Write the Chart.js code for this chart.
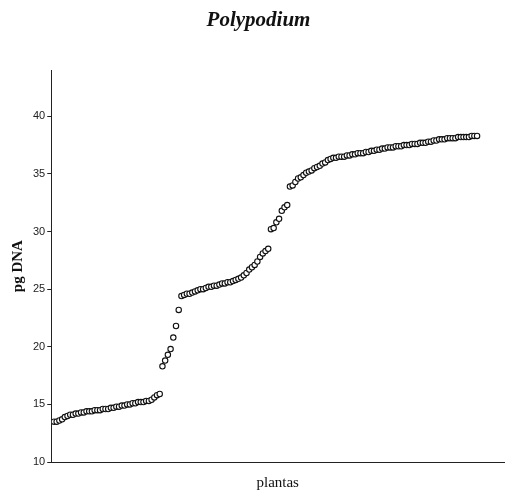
<!DOCTYPE html>
<html>
<head>
<meta charset="utf-8">
<script src="https://cdn.jsdelivr.net/npm/chart.js@4.4.0/dist/chart.umd.min.js"></script>
<style>
  html, body { margin: 0; padding: 0; background: #fff; }
  #wrap { width: 508px; height: 491px; }
</style>
</head>
<body>
<div id="wrap"><canvas id="chart" width="508" height="491"></canvas></div>
<script>
// pg DNA per plant, sorted ascending
const lowGroup = [13.5, 13.5, 13.6, 13.7, 13.9, 14.0, 14.1, 14.1, 14.2, 14.2,
    14.3, 14.3, 14.4, 14.4, 14.4, 14.5, 14.5, 14.5, 14.6, 14.6,
    14.6, 14.7, 14.7, 14.8, 14.8, 14.9, 14.9, 15.0, 15.0, 15.1,
    15.1, 15.2, 15.2, 15.2, 15.3, 15.3, 15.4, 15.6, 15.8, 15.9];
const firstJump = [18.3, 18.8, 19.3, 19.8, 20.8, 21.8, 23.2, 24.4, 24.5];
const midGroup = [24.6, 24.6, 24.7, 24.8, 24.9, 25.0, 25.0, 25.1, 25.2, 25.2,
    25.3, 25.3, 25.4, 25.5, 25.5, 25.6, 25.6, 25.7, 25.8, 25.9,
    26.0, 26.2, 26.4, 26.7, 26.9, 27.1, 27.4, 27.8, 28.1, 28.3, 28.5];
const secondJump = [30.2, 30.3, 30.8, 31.1, 31.8, 32.1, 32.3];
const highGroup = [33.9, 34.0, 34.3, 34.6, 34.7, 34.9, 35.1, 35.2, 35.3, 35.5,
    35.6, 35.7, 35.9, 36.0, 36.2, 36.3, 36.4, 36.4, 36.5, 36.5,
    36.5, 36.6, 36.6, 36.7, 36.7, 36.8, 36.8, 36.8, 36.9, 36.9,
    37.0, 37.0, 37.1, 37.1, 37.2, 37.2, 37.3, 37.3, 37.3, 37.4,
    37.4, 37.4, 37.5, 37.5, 37.5, 37.6, 37.6, 37.6, 37.7, 37.7,
    37.7, 37.8, 37.8, 37.9, 37.9, 38.0, 38.0, 38.0, 38.1, 38.1,
    38.1, 38.1, 38.2, 38.2, 38.2, 38.2, 38.2, 38.3, 38.3, 38.3];

const dnaValues = [...lowGroup, ...firstJump, ...midGroup, ...secondJump, ...highGroup];
const yTicks = [10, 15, 20, 25, 30, 35, 40];

const points = dnaValues.map((v, i) => ({ x: i + 1, y: v }));

const serif = "'Liberation Serif', 'DejaVu Serif', serif";
const sans = "'Liberation Sans', Arial, sans-serif";

new Chart(document.getElementById("chart"), {
    type: "scatter",
    data: {
        datasets: [{
            data: points,
            pointStyle: "circle",
            pointRadius: 2.7,
            pointBorderWidth: 1.1,
            pointBorderColor: "#111",
            pointBackgroundColor: "#fff",
            pointHoverRadius: 2.7
        }]
    },
    options: {
        responsive: false,
        animation: false,
        layout: { padding: { left: 9, right: 0, top: 8, bottom: 0 } },
        plugins: {
            legend: { display: false },
            tooltip: { enabled: false },
            title: {
                display: true,
                text: "Polypodium",
                color: "#111",
                font: { family: serif, size: 21, style: "italic", weight: "bold" },
                padding: { top: 0, bottom: 37 }
            }
        },
        scales: {
            x: {
                type: "linear",
                min: 0,
                max: 167,
                ticks: { display: false },
                grid: { display: false, drawTicks: false },
                border: { display: true, color: "#222", width: 1 },
                title: {
                    display: true,
                    text: "plantas",
                    color: "#111",
                    font: { family: serif, size: 15, lineHeight: 1 },
                    padding: { top: 14, bottom: 0 }
                }
            },
            y: {
                type: "linear",
                min: 10,
                max: 44,
                afterBuildTicks: axis => { axis.ticks = yTicks.map(v => ({ value: v })); },
                ticks: {
                    color: "#222",
                    font: { family: sans, size: 11 },
                    padding: 2
                },
                grid: {
                    drawOnChartArea: false,
                    drawTicks: true,
                    tickLength: 4,
                    color: "#222"
                },
                border: { display: true, color: "#222", width: 1 },
                title: {
                    display: true,
                    text: "pg DNA",
                    color: "#111",
                    font: { family: serif, size: 15, weight: "bold" },
                    padding: { top: 0, bottom: 4 }
                }
            }
        }
    }
});
</script>
</body>
</html>
